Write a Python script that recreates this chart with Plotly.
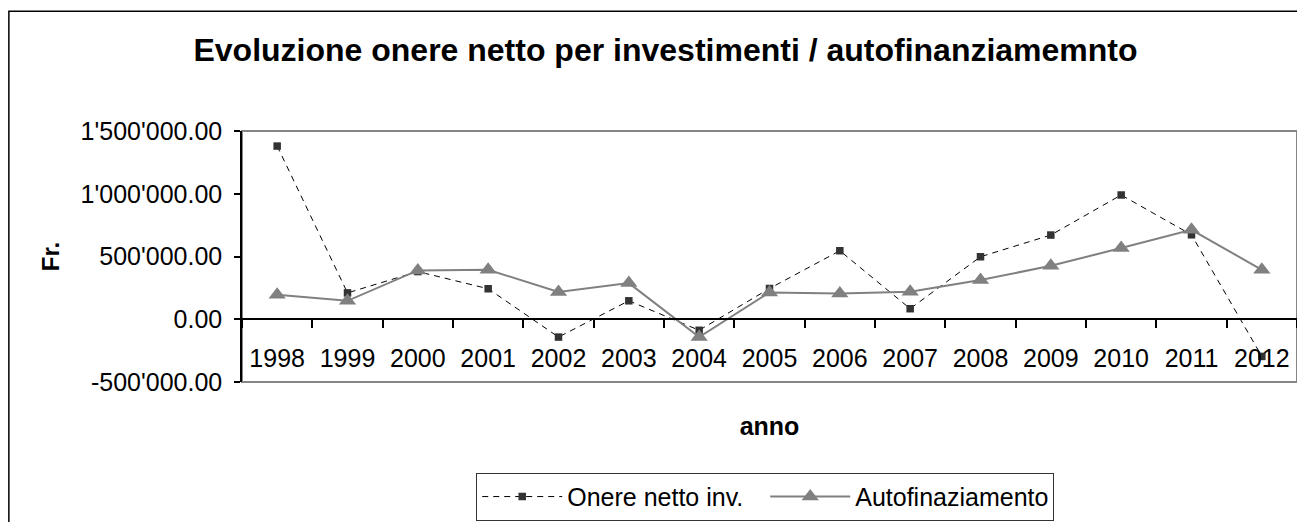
import plotly.graph_objects as go

anni = ["1998", "1999", "2000", "2001", "2002", "2003", "2004", "2005",
        "2006", "2007", "2008", "2009", "2010", "2011", "2012"]
onere_netto = [1380000, 210000, 380000, 243000, -142000, 147000, -88000, 245000,
               546000, 84000, 498000, 671000, 990000, 673000, -296000]
autofinanziamento = [195000, 147000, 389000, 394000, 217000, 288000, -142000, 214000,
                     206000, 219000, 312000, 426000, 567000, 713000, 394000]
y_tickvals = [-500000, 0, 500000, 1000000, 1500000]
y_ticktext = ["-500'000.00", "0.00", "500'000.00", "1'000'000.00", "1'500'000.00"]

FONT = "Liberation Sans, Arial, sans-serif"

fig = go.Figure()
fig.add_trace(go.Scatter(
    x=anni, y=onere_netto, name="Onere netto inv.", mode="lines+markers",
    line=dict(color="#000000", width=1, dash="6px,5px"),
    marker=dict(symbol="square", size=7.5, color="#333333"),
))
fig.add_trace(go.Scatter(
    x=anni, y=autofinanziamento, name="Autofinaziamento", mode="lines+markers",
    line=dict(color="#808080", width=2),
    marker=dict(symbol="triangle-up", size=15, color="#808080"),
))

# page has an 8px body margin: figure coordinates = page coordinates - 8
OFF = 8
W, H = 1305 - OFF, 522 - OFF
L, R, T, B = 241.7 - OFF, 1297 - OFF, 130.7 - OFF, 381.7 - OFF

def px_x(p):
    return (p - OFF - L) / (R - L)

def px_y(p):
    return (B - (p - OFF)) / (B - T)

fig.update_layout(
    width=W, height=H,
    margin=dict(l=L, r=W - R, t=T, b=H - B, autoexpand=False),
    paper_bgcolor="white", plot_bgcolor="white",
    font=dict(family=FONT, size=25, color="#000000"),
    title=dict(text="<b>Evoluzione onere netto per investimenti / autofinanziamemnto</b>",
               x=(665.5 - OFF) / W, xanchor="center", y=1 - (50 - OFF) / H, yanchor="middle",
               xref="container", yref="container",
               font=dict(family=FONT, size=32, color="#000000")),
    showlegend=True,
    legend=dict(orientation="h", x=px_x(476), xanchor="left", y=px_y(472.5), yanchor="top",
                bordercolor="#333333", borderwidth=1, bgcolor="white",
                font=dict(family=FONT, size=25), itemwidth=80,
                entrywidth=193, tracegroupgap=0),
    xaxis=dict(type="category", range=[-0.5, len(anni) - 0.5],
               anchor="free", position=0.25,
               showline=True, linecolor="#000000", linewidth=1.5,
               ticks="outside", ticklen=8, tickwidth=1.5, tickcolor="#000000",
               tickson="boundaries", showgrid=False, zeroline=False,
               ticklabelstandoff=17,
               tickfont=dict(family=FONT, size=25),
               title=dict(text="<b>anno</b>", standoff=45,
                          font=dict(family=FONT, size=25))),
    yaxis=dict(range=[-500000, 1500000], tickvals=y_tickvals, ticktext=y_ticktext,
               showline=True, linecolor="#000000", linewidth=1.5,
               ticks="outside", ticklen=6, tickwidth=1.5, tickcolor="#000000",
               showgrid=False, zeroline=False, ticklabelstandoff=7,
               tickfont=dict(family=FONT, size=25),
               title=dict(text="<b>Fr.</b>", standoff=14,
                          font=dict(family=FONT, size=24))),
    shapes=[
        dict(type="rect", xref="paper", yref="paper", x0=0, x1=1, y0=0, y1=1,
             line=dict(color="#868686", width=2), layer="below"),
        dict(type="rect", xref="paper", yref="paper",
             x0=px_x(8.5), x1=px_x(1330), y0=px_y(560), y1=px_y(11),
             line=dict(color="#000000", width=1.5), layer="below"),
    ],
)

fig.write_html("out.html")
